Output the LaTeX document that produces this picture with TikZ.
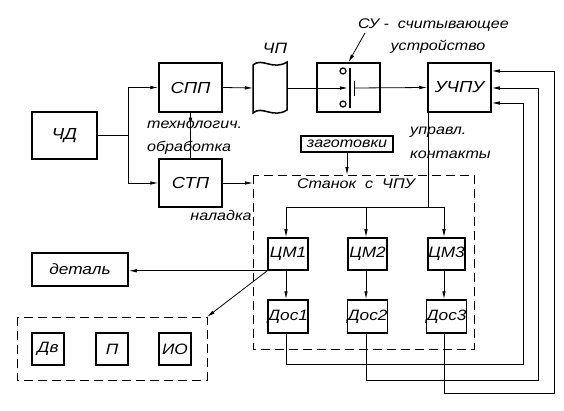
\documentclass[tikz,border=0pt]{standalone}
\usepackage{fontspec}
\setmainfont{Liberation Sans}[FakeStretch=1.15]
\usetikzlibrary{arrows.meta}
\tikzset{
  blk/.style={draw, line width=1.5pt, minimum width=#1, inner sep=0pt},
  big/.style={font=\fontsize{16}{16}\selectfont\itshape},
  mid/.style={font=\fontsize{15}{15}\selectfont\itshape},
  conn/.style={line width=0.8pt},
  arr/.style={conn, -{Latex[length=8pt,width=3.5pt]}},
  dbox/.style={draw, line width=0.8pt, dash pattern=on 9pt off 5pt},
  lbl/.style={inner sep=0pt},
}
\begin{document}
\begin{tikzpicture}[x=1pt,y=-1pt, every node/.append style={font=\fontsize{14}{14}\selectfont\itshape}]
\useasboundingbox (0,0) rectangle (564,411);
% main blocks
\node[blk=65pt, minimum height=47pt, big] (chd) at (64.5,135.5) {ЧД};
\node[blk=63pt, minimum height=49pt, big] (spp) at (190.5,87.5) {СПП};
\node[blk=63pt, minimum height=48pt, big] (stp) at (190.5,183) {СТП};
\node[blk=63pt, minimum height=49pt] (su) at (348.5,87.5) {};
\node[blk=63pt, minimum height=49pt, big] (uchpu) at (459.5,87.5) {УЧПУ};
\node[blk=92pt, minimum height=16pt] (zag) at (347,144) {заготовки};
\node[blk=96pt, minimum height=33pt, mid] (det) at (80,269.5) {деталь};
% tape
\draw[line width=1.5pt] (253,65) .. controls (262,57) and (273,71) .. (287,62) -- (287,110)
  .. controls (273,119) and (262,105) .. (253,113) -- cycle;
\coordinate (chpw) at (253,88);
\coordinate (chpe) at (287,88);
\node[lbl, mid] (chplbl) at (275,48) {ЧП};
% dashed boxes
\draw[dbox] (253,175) rectangle (474,349);
\draw[dbox] (17,317) rectangle (207,380);
\coordinate (d1top) at (253,183);
\coordinate (zagin) at (347,175);
\coordinate (d2tr) at (207,317);
% CM and Dos
\node[blk=40pt, minimum height=32pt, mid] (cm1) at (288,254) {ЦМ1};
\node[blk=39pt, minimum height=32pt, mid] (cm2) at (367.5,254) {ЦМ2};
\node[blk=37pt, minimum height=32pt, mid] (cm3) at (446.5,254) {ЦМ3};
\node[blk=40pt, minimum height=33pt, mid] (dos1) at (288,316.5) {Дос1};
\node[blk=39pt, minimum height=33pt, mid] (dos2) at (367.5,316.5) {Дос2};
\node[blk=37pt, minimum height=33pt, mid] (dos3) at (446.5,316.5) {Дос3};
% bottom-left block
\node[blk=32pt, minimum height=32pt, mid] (dv) at (48,349) {Дв};
\node[blk=32pt, minimum height=32pt, mid] (p) at (112,349) {П};
\node[blk=32pt, minimum height=32pt, mid] (io) at (175,349) {ИО};
% switch inside SU
\draw[line width=1.5pt] (350,68) -- (350,108);
\draw[line width=1.2pt] (354.5,81) -- (354.5,96);
\draw[line width=1.2pt] (343,71) circle (3pt) (343,104) circle (3pt);
\coordinate (swin) at (348,88);
\coordinate (swout) at (355,88);
% connectors
\coordinate (j1) at (128,135.5);
\draw[conn] (chd.east) -- (j1);
\draw[arr] (j1) |- (spp.west);
\draw[arr] (j1) |- (stp.west);
\draw[arr] (spp.east) -- (chpw);
\draw[arr] (stp.east) -- (d1top);
\draw[arr] (chpe) -- (swin);
\draw[arr] (swout) -- (uchpu.west);
\draw[conn] (spp.south) -- (stp.north);
\draw[arr] (spp.south) -- ++(0,13);
\draw[arr] (zag.south) -- (zagin);
\coordinate (sulbl) at (365,33);
\draw[arr] (sulbl) -- (su.north);
% UCHPU to CM
\coordinate (ub) at (428,112);
\coordinate (bus) at (428,207);
\draw[conn] (ub) -- (bus);
\draw[conn] (286,207) -- (444,207);
\draw[arr] (286,207) -- (cm1.north -| 286,0);
\draw[arr] (366,207) -- (cm2.north -| 366,0);
\draw[arr] (444,207) -- (cm3.north -| 444,0);
\draw[arr] (cm1.south -| 286,0) -- (dos1.north -| 286,0);
\draw[arr] (cm2.south -| 366,0) -- (dos2.north -| 366,0);
\draw[arr] (cm3.south -| 444,0) -- (dos3.north -| 444,0);
% feedback
\draw[arr] (dos1.south -| 286,0) -- (286,364) -- (523,364) -- (523,103) -- (uchpu.east |- 0,103);
\draw[arr] (dos2.south -| 366,0) -- (366,380) -- (538,380) -- (538,88) -- (uchpu.east |- 0,88);
\draw[arr] (dos3.south -| 444,0) -- (444,393) -- (554,393) -- (554,71) -- (uchpu.east |- 0,71);
% part and equipment
\draw[arr] (cm1.south west) -- (det.east |- cm1.south west);
\draw[arr] (cm1.south west) -- (d2tr);
% labels
\node[lbl, anchor=west] (sutxt) at (358,25) {СУ -\ \ считывающее};
\node[lbl] (sutxt2) at (438,47) {устройство};
\node[lbl, anchor=west] (tech1) at (147,125) {технологич.};
\node[lbl, anchor=west] (tech2) at (147,148) {обработка};
\node[lbl, anchor=west] (upr1) at (410,132) {управл.};
\node[lbl, anchor=west] (upr2) at (410,155) {контакты};
\node[lbl] (stan) at (356,184) {Станок\ \ с\ \ ЧПУ};
\node[lbl] (nal) at (221,215) {наладка};
\end{tikzpicture}
\end{document}
